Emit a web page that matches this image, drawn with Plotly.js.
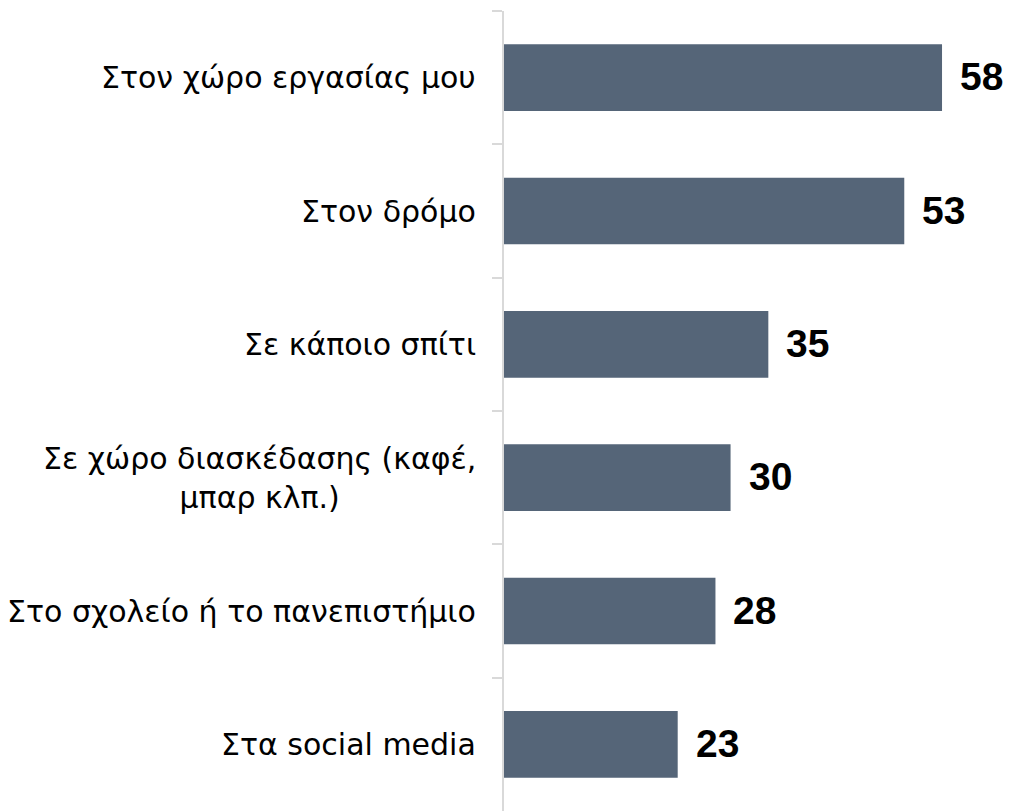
<!DOCTYPE html>
<html>
<head>
<meta charset="utf-8">
<script src="https://cdn.plot.ly/plotly-3.0.1.min.js"></script>
<style>html,body{margin:0;padding:0;background:#fff;}#chart{width:1013px;height:811px;}</style>
</head>
<body>
<div id="chart"></div>
<script>
const categories = [
  "Στον χώρο εργασίας μου",
  "Στον δρόμο",
  "Σε κάποιο σπίτι",
  "Σε χώρο διασκέδασης (καφέ,<br>μπαρ κλπ.)",
  "Στο σχολείο ή το πανεπιστήμιο",
  "Στα social media"
];
const values = [58, 53, 35, 30, 28, 23];
const valueLabels = ["58", "53", "35", "30", "28", "23"];

const catFont = {family: "DejaVu Sans, sans-serif", size: 30, color: "#000"};
const valFont = {family: "Liberation Sans, Arial, sans-serif", size: 39, color: "#000", weight: "bold"};

const annotations = [];
categories.forEach((c, i) => {
  annotations.push({
    xref: "paper", yref: "y", x: 0, y: c, text: c,
    xanchor: "right", yanchor: "middle", align: "center",
    xshift: -26, showarrow: false, font: catFont
  });
  annotations.push({
    xref: "x", yref: "y", x: values[i], y: c, text: "<b>" + valueLabels[i] + "</b>",
    xanchor: "left", yanchor: "middle", xshift: 16, yshift: 1, showarrow: false, font: valFont
  });
});

const data = [{
  type: "bar", orientation: "h",
  x: values, y: categories,
  marker: {color: "#556578"},
  hoverinfo: "none"
}];

const layout = {
  width: 1013, height: 811,
  margin: {l: 504, r: 3, t: 11, b: 0, pad: 0},
  paper_bgcolor: "#fff", plot_bgcolor: "#fff",
  bargap: 0.5,
  showlegend: false,
  xaxis: {range: [0, 67], visible: false, fixedrange: true},
  yaxis: {
    type: "category", autorange: "reversed",
    showline: true, linecolor: "#d9d9d9", linewidth: 2,
    ticks: "outside", ticklen: 10, tickcolor: "#d9d9d9", tickwidth: 2,
    tickson: "boundaries", showticklabels: false, showgrid: false, zeroline: false
  },
  annotations: annotations
};

Plotly.newPlot("chart", data, layout, {displayModeBar: false, staticPlot: true});
</script>
</body>
</html>
